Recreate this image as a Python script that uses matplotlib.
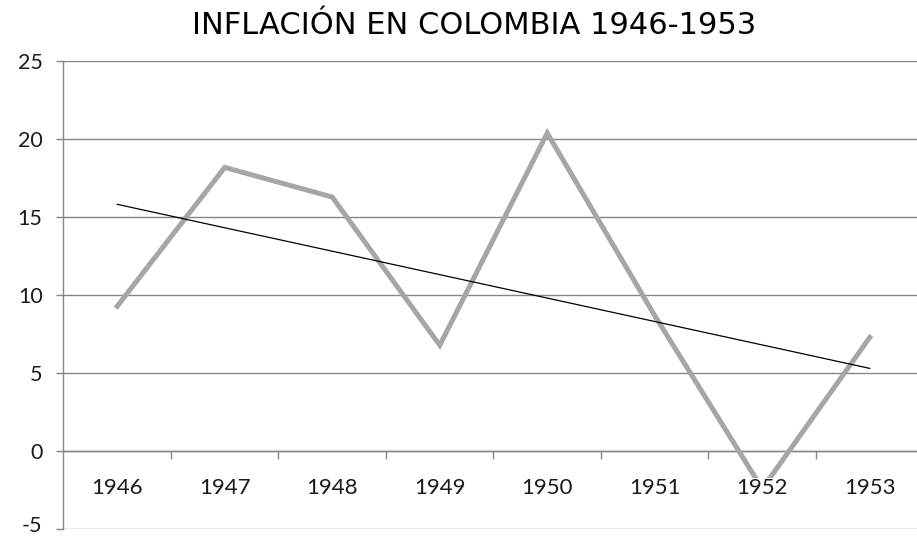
"""Line chart: inflation in Colombia 1946-1953 with a linear trendline."""

import numpy as np
import matplotlib

matplotlib.use("Agg")
import matplotlib.pyplot as plt
import matplotlib.transforms as mtransforms

years = ["1946", "1947", "1948", "1949", "1950", "1951", "1952", "1953"]
inflation = [9.3, 18.2, 16.3, 6.8, 20.4, 8.7, -2.4, 7.3]

y_ticks = [-5, 0, 5, 10, 15, 20, 25]
title = "INFLACIÓN EN COLOMBIA 1946-1953"

GRID = "#868686"
LINE = "#a6a6a6"

fig = plt.figure(figsize=(9.17, 5.37), dpi=100)
ax = fig.add_axes([0.0692, 0.0143, 0.9308, 0.8715])

x = np.arange(len(years))
ax.plot(x, inflation, color=LINE, linewidth=3.6, solid_joinstyle="miter", zorder=3)

# linear trendline (least squares) as in the spreadsheet
slope, intercept = np.polyfit(x, inflation, 1)
ax.plot([x[0], x[-1]], [intercept, intercept + slope * x[-1]],
        color="black", linewidth=0.9, zorder=4)

ax.set_ylim(-5, 25)
ax.set_xlim(-0.5, -0.5 + (917 - 63.5) / 107.5)
ax.set_yticks(y_ticks)
ax.set_yticklabels([str(v) for v in y_ticks])
ax.yaxis.grid(True, color=GRID, linewidth=1.0)
ax.set_axisbelow(True)
# category labels sit on top of the series (they hide the 1952 dip)
ax.xaxis.set_zorder(5)

for side in ("top", "right"):
    ax.spines[side].set_visible(False)
ax.spines["left"].set_color(GRID)
ax.spines["left"].set_linewidth(1.0)
ax.spines["bottom"].set_position(("data", 0))
ax.spines["bottom"].set_color(GRID)
ax.spines["bottom"].set_linewidth(1.0)

ax.set_xticks(x)
ax.set_xticklabels(years)
ax.set_xticks(x[:-1] + 0.5, minor=True)
ax.tick_params(axis="x", which="major", length=0, pad=19,
               labelsize=16, labelcolor="#1a1a1a")
ax.tick_params(axis="x", which="minor", length=5.5, color=GRID, width=1.0)
ax.tick_params(axis="y", length=5, color=GRID, width=1.0, pad=10,
               labelsize=15.5, labelcolor="#1a1a1a")
for lab in ax.get_xticklabels() + ax.get_yticklabels():
    lab.set_family(["Lato", "DejaVu Sans"])
for lab in ax.get_xticklabels():
    lab.set_bbox(dict(facecolor="white", edgecolor="none", pad=0))

# the lowest label sits at the figure edge; nudge it up so it is not clipped
low = ax.get_yticklabels()[0]
low.set_transform(low.get_transform()
                  + mtransforms.ScaledTranslation(0, 4 / 72, fig.dpi_scale_trans))

fig.text(0.517, 0.952, title, ha="center", va="center", fontsize=22,
         family=["DejaVu Sans"], color="black")

fig.savefig("out.png", dpi=100)
